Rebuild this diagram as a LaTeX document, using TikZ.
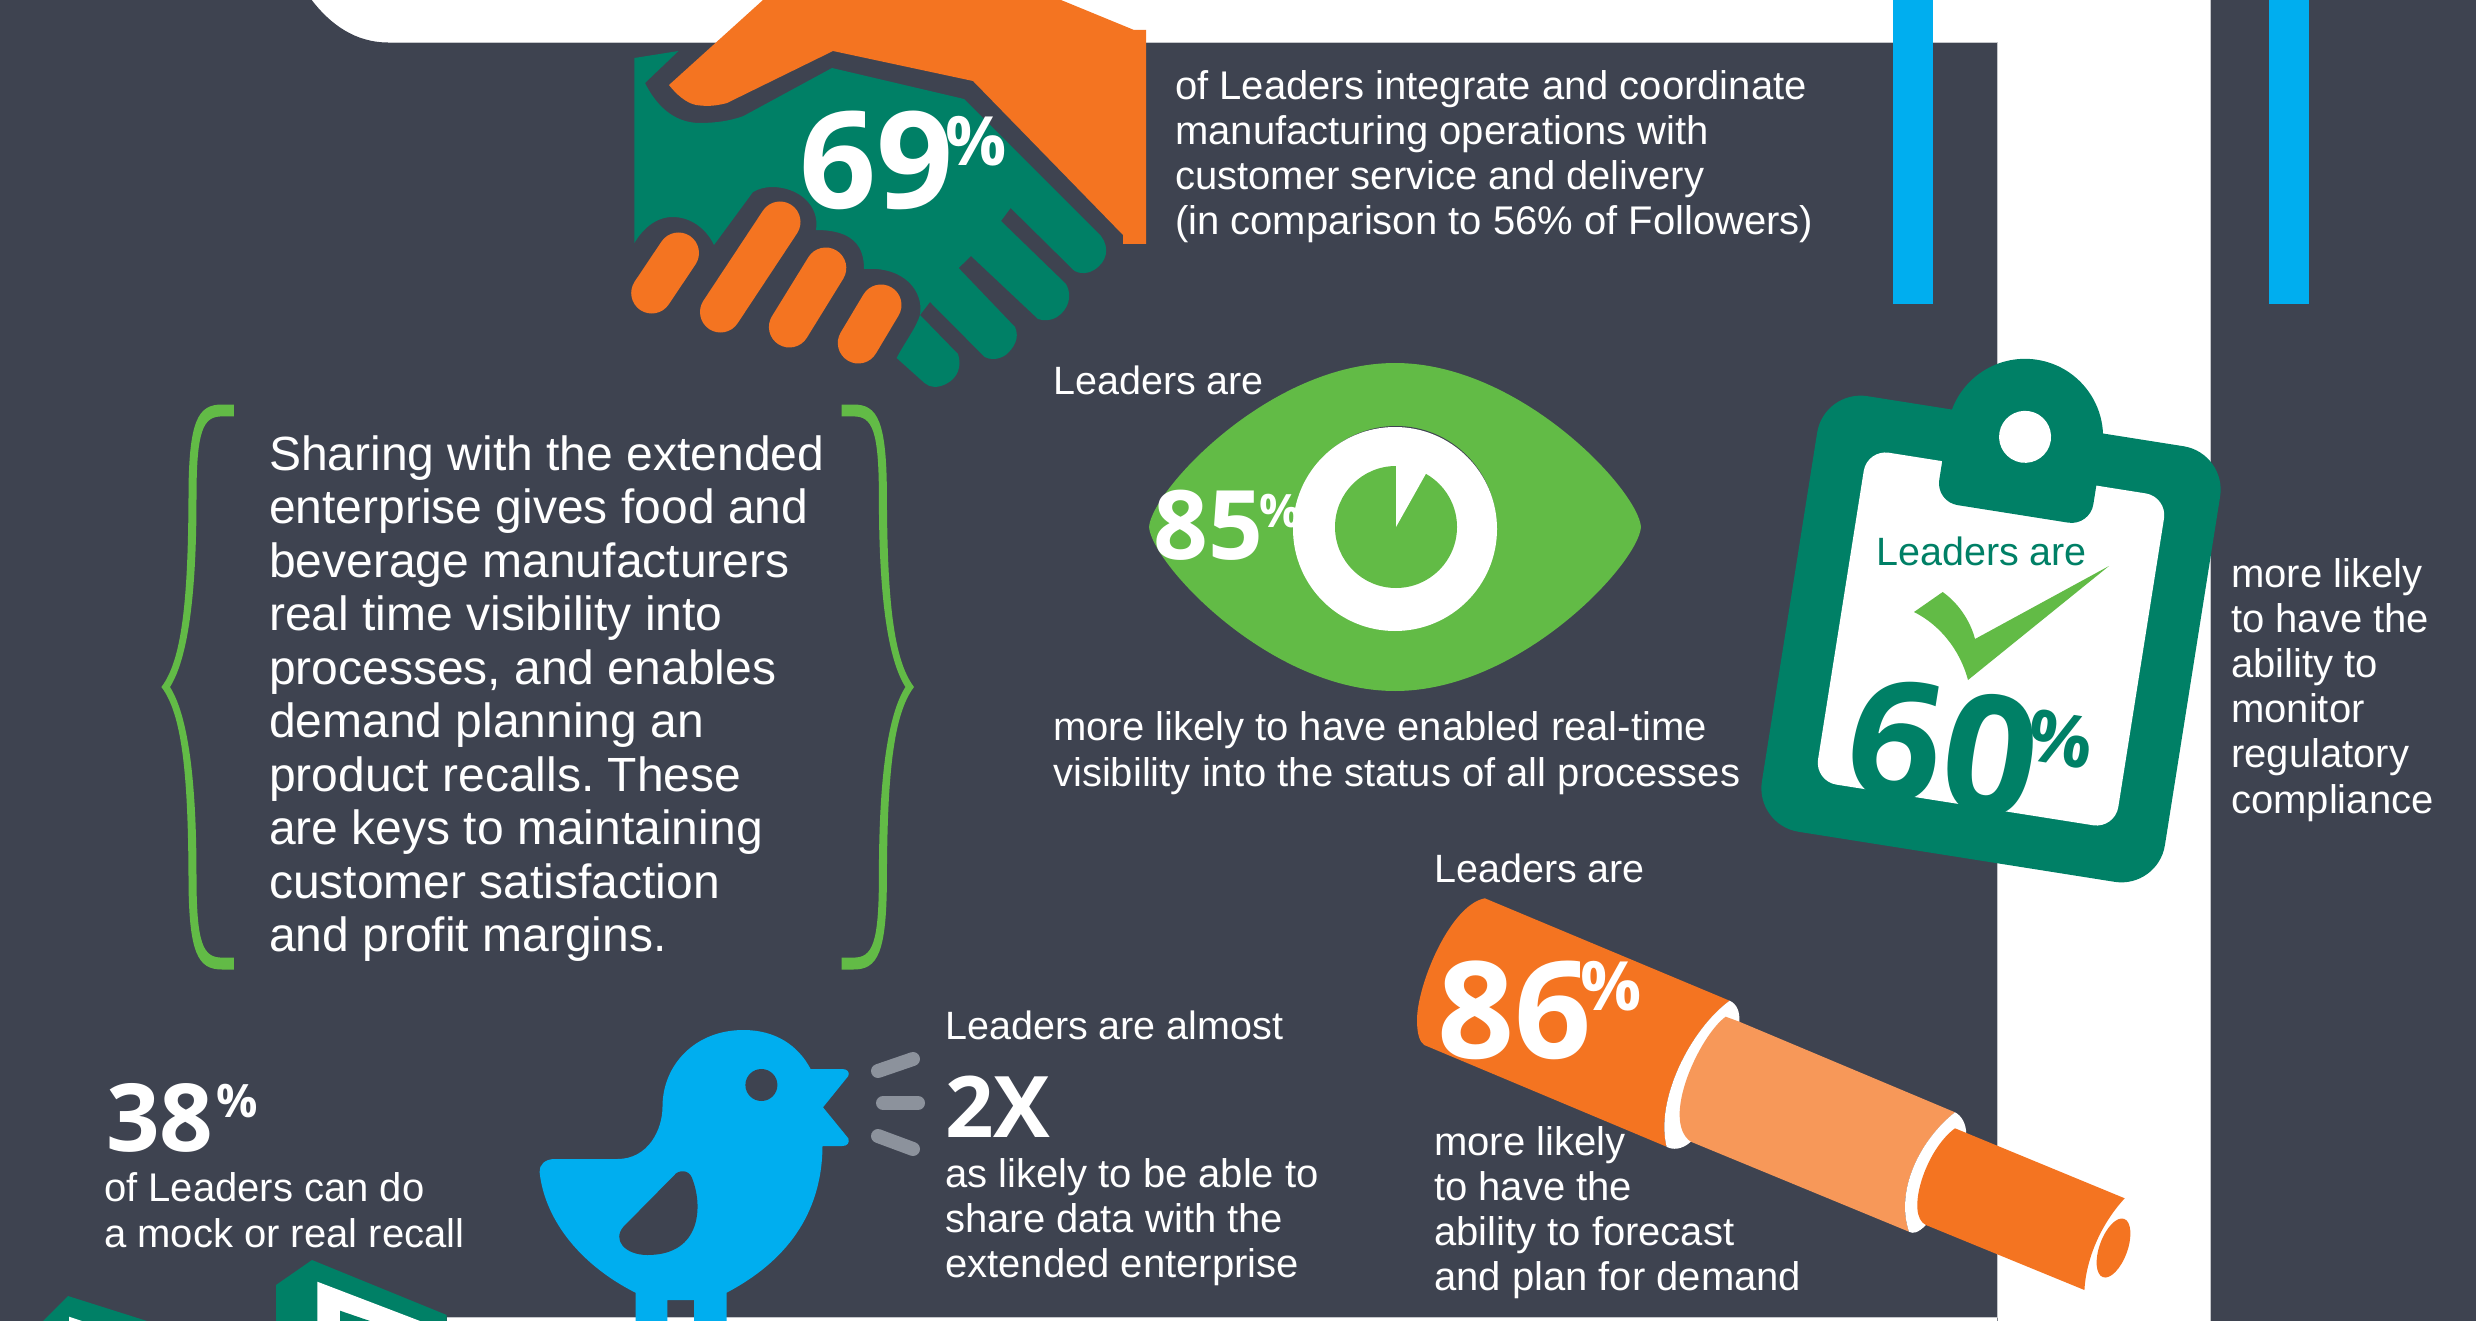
\documentclass[tikz,border=0pt]{standalone}
\usepackage{fontspec}
\setmainfont{Liberation Sans}
\newfontfamily\numfont{Open Sans}
\frenchspacing
\definecolor{panel}{HTML}{3E4350}
\definecolor{orangeA}{HTML}{F47421}
\definecolor{orangeB}{HTML}{F79859}
\definecolor{greenD}{HTML}{008066}
\definecolor{greenL}{HTML}{62BB46}
\definecolor{blueA}{HTML}{00AEEF}
\definecolor{greyA}{HTML}{8C929C}
\definecolor{edgeA}{HTML}{C4C6CA}
\newcommand\numf[1]{\fontsize{#1}{#1}\selectfont\numfont\bfseries}
\newcommand\mltext[6]{\foreach \t [count=\i from 0] in {#5} \node[#1] (#2-\i) at (#3,{#4+\i*#6}) {\t};}
\newcommand\bracehalf{\fill[greenL] (233.9,404.5) -- (222,404.5) .. controls (198,404.5) and (188.5,420) .. (188.5,498) .. controls (188,600) and (182,660) .. (161.4,687) -- (170,687) .. controls (187,660) and (196.5,600) .. (196.5,498) .. controls (196.5,430) and (203,416.4) .. (222,416.4) -- (233.9,416.4) -- cycle;}
\tikzset{
  txt/.style={anchor=base west,inner sep=0pt,text=white,font=\fontsize{40}{45}\selectfont},
  sharetxt/.style={txt,font=\fontsize{48}{54}\selectfont},
  pct/.style={anchor=base west,inner sep=0pt,text=white},
  finger/.style={draw=orangeA,line cap=round,line width=41pt},
  soundbar/.style={draw=greyA,line cap=round,line width=14pt}
}
\begin{document}
\begin{tikzpicture}[x=1pt,y=-1pt]
\useasboundingbox (0,0) rectangle (2476,1321);
% page
\fill[white] (0,0) rectangle (2476,1321);
\fill[panel] (0,0) -- (311.7,0) .. controls (330,24) and (355,42.5) .. (388,42.5) -- (1997.5,42.5) -- (1997.5,1321) -- (0,1321) -- cycle;
\draw[edgeA,line width=1pt] (388,42.5) -- (1997.5,42.5) -- (1997.5,1317.3) -- (447,1317.3);
\fill[white] (447,1317.8) rectangle (1997,1321);
\fill[panel] (2210.5,0) rectangle (2476,1321);
\draw[edgeA,line width=1pt] (2210.5,0) -- (2210.5,1321);
\fill[blueA] (1893,0) rectangle (1933,304);
\fill[blueA] (2269,0) rectangle (2309,304);

% handshake
\fill[greenD] (634.4,58) -- (678.5,51) -- (645,83)
  .. controls (655,103) and (672,123) .. (700,123) .. controls (715,123) and (730,121) .. (743.5,116)
  -- (832,68) -- (964,99) -- (1101,236)
  .. controls (1110,248) and (1107,262) .. (1094,270) .. controls (1088,274) and (1080,274) .. (1074.5,271)
  -- (1010.6,208) -- (1001,221) -- (1066,284)
  .. controls (1073,296) and (1068,310) .. (1057,317) .. controls (1050,321) and (1044,321) .. (1038,319)
  -- (971,256) -- (958.6,268) -- (1015,327)
  .. controls (1020,338) and (1014,348) .. (1005.7,355) .. controls (998,360) and (990,360) .. (984.6,357)
  -- (930,302) -- (920,315) -- (958,354)
  .. controls (962,366) and (958,378) .. (946,384) .. controls (938,388) and (930,388) .. (924.5,383)
  -- (896.6,358)
  .. controls (905,342) and (916,328) .. (920,315)
  .. controls (924,292) and (905,266) .. (864,269)
  .. controls (864,248) and (855,230) .. (816,230)
  .. controls (820,205) and (798,187) .. (772,187) .. controls (765,187) and (758,189) .. (753,192)
  -- (714,245)
  .. controls (706,228) and (690,217) .. (672.7,217) .. controls (655,217) and (642,230) .. (634.4,243)
  -- cycle;
\fill[orangeA] (763,0) -- (1061,0) -- (1134,30) -- (1146,30) -- (1146,244) -- (1123,244) -- (1123,235) -- (973,81) -- (833,51) -- (727,103)
  .. controls (712,107) and (704,106) .. (696,105) .. controls (686,103) and (676,94) .. (669,85) -- cycle;
\draw[finger] (678.5,253) -- (651.7,293);
\draw[finger] (780,222) -- (720.5,312);
\draw[finger] (825.8,268) -- (789.4,327);
\draw[finger] (881,305) -- (858.3,343);
\node[pct,font=\numf{135}] (n69) at (799,209) {69};
\node[pct,font=\numf{68}] (p69) at (945,166) {\%};
\mltext{txt}{hand}{1175}{99.5}{of Leaders integrate and coordinate,manufacturing operations with,customer service and delivery,(in comparison to 56\% of Followers)}{45}

% braces
\bracehalf
\begin{scope}[shift={(1075.4,0)},xscale=-1]\bracehalf\end{scope}
\begin{scope}[shift={(0,1374)},yscale=-1]\bracehalf\end{scope}
\begin{scope}[shift={(1075.4,1374)},xscale=-1,yscale=-1]\bracehalf\end{scope}
\mltext{sharetxt}{share}{269}{470}{Sharing with the extended,enterprise gives food and,beverage manufacturers,real time visibility into,{processes, and enables},demand planning an,product recalls. These,are keys to maintaining,customer satisfaction,and profit margins.}{53.5}

% eye
\node[txt,font=\fontsize{39.5}{45}\selectfont] (eyetop) at (1053,395) {Leaders are};
\fill[greenL] (1149,527) .. controls (1152,490) and (1270,363) .. (1395,363) .. controls (1520,363) and (1638,490) .. (1641,527) .. controls (1638,564) and (1520,691) .. (1395,691) .. controls (1270,691) and (1152,564) .. (1149,527) -- cycle;
\fill[panel] (1396,526) circle[radius=100];
\fill[white] (1395,529) circle[radius=102];
\fill[greenL] (1396,527) circle[radius=61];
\fill[white] (1396,527) -- (1396,462) -- (1428,470) -- cycle;
\node[pct,font=\numf{96}] (n85) at (1153,559) {85};
\node[pct,font=\numf{46}] (p85) at (1259,527) {\%};
\mltext{txt}{eye}{1053}{740}{more likely to have enabled real-time,visibility into the status of all processes}{46}

% clipboard
\begin{scope}[shift={(1991,639)},rotate=-9]
\fill[greenD,rounded corners=44pt] (-204,-220.5) rectangle (204,220.5);
\fill[greenD] (2,-205) circle[radius=78];
\fill[white,rounded corners=22pt] (-152,-168) rectangle (152,168);
\fill[greenD,rounded corners=22pt] (-76,-215) rectangle (80,-127);
\fill[white] (2,-205) circle[radius=26];
\end{scope}
\node[pct,text=greenD,font=\fontsize{39.5}{45}\selectfont] (cliptxt) at (1876,565) {Leaders are};
\fill[greenL] (1914,612) -- (1942.7,592) .. controls (1958,603) and (1970,620) .. (1975,639) -- (2109,566) -- (1968,680) .. controls (1960,650) and (1940,625) .. (1914,612) -- cycle;
\node[anchor=base,inner sep=0pt,text=greenD,rotate=-9,font=\numf{166}] (n60) at (1934,806) {60};
\node[anchor=center,inner sep=0pt,text=greenD,rotate=-9,font=\numf{72}] (p60) at (2061,739) {\%};
\mltext{txt}{clip}{2231}{587}{more likely,to have the,ability to,monitor,regulatory,compliance}{45.2}

% pipe
\node[txt,font=\fontsize{39.5}{45}\selectfont] (pipetop) at (1434,882) {Leaders are};
\fill[orangeA] (1484.8,898.3) -- (1729.6,1000.7)
  .. controls (1690,1030) and (1655,1100) .. (1666.6,1146.7)
  -- (1424.2,1045)
  .. controls (1420,1042) and (1417,1035) .. (1417,1020)
  .. controls (1417,985) and (1450,905) .. (1484.8,898.3) -- cycle;
\fill[white] (1729.6,1000.7) .. controls (1737,1004) and (1740,1012) .. (1739.3,1021.7)
  -- (1690.8,1141.7) .. controls (1682,1150) and (1672,1150) .. (1666.6,1146.7)
  .. controls (1655,1100) and (1690,1030) .. (1729.6,1000.7) -- cycle;
\fill[orangeB] (1725.7,1016.7) -- (1739.3,1021.7) -- (1955,1112.3)
  .. controls (1920,1140) and (1895,1190) .. (1909,1231.7)
  -- (1690.8,1141.7)
  .. controls (1660,1120) and (1700,1035) .. (1725.7,1016.7) -- cycle;
\fill[white] (1955,1112.3) .. controls (1962,1116) and (1966,1124) .. (1966.2,1133.3)
  -- (1925.9,1225) .. controls (1918,1233) and (1913,1234) .. (1909,1231.7)
  .. controls (1895,1190) and (1920,1140) .. (1955,1112.3) -- cycle;
\fill[orangeA] (1955,1128.3) -- (2124.7,1198.3)
  .. controls (2100,1225) and (2086,1260) .. (2084.4,1290)
  -- (1925.9,1225)
  .. controls (1905,1215) and (1925,1150) .. (1955,1128.3) -- cycle;
\fill[orangeA,rotate around={-20:(2113.5,1248)}] (2113.5,1248) ellipse[x radius=14,y radius=31];
\node[pct,font=\numf{135}] (n86) at (1437,1058) {86};
\node[pct,font=\numf{68}] (p86) at (1580,1010) {\%};
\mltext{txt}{pipe}{1434}{1155}{more likely,to have the,ability to forecast,and plan for demand}{45.3}

% bird
\node[txt,font=\fontsize{39.5}{45}\selectfont] (birdtop) at (945,1039) {Leaders are almost};
\node[pct,font=\numf{85}] (twox) at (945,1137) {2X};
\mltext{txt}{bird}{945}{1187}{as likely to be able to,share data with the,extended enterprise}{45}
\fill[blueA] (810.6,1069) -- (842.3,1069) .. controls (847,1069) and (850,1072) .. (848.3,1076) -- (823,1107.3) -- (848.3,1138.3) .. controls (850,1143) and (847,1146) .. (842.3,1146) -- (822.5,1146)
  .. controls (822,1215) and (785,1262) .. (726.6,1292.7)
  -- (726.6,1321) -- (694.2,1321) -- (694.2,1300) -- (667.3,1300) -- (667.3,1321) -- (635.5,1321) -- (635.5,1292.7)
  .. controls (575,1262) and (544,1215) .. (539.6,1172)
  .. controls (539,1165) and (545,1159) .. (554.6,1159)
  -- (617.5,1159) .. controls (648,1159) and (662.5,1130) .. (662.5,1106.7)
  .. controls (662.5,1065) and (695,1030) .. (743.4,1030)
  .. controls (775,1030) and (798,1045) .. (810.6,1069) -- cycle;
\fill[panel] (761.4,1085) circle[radius=16];
\fill[panel] (674.5,1175) .. controls (678,1170) and (689,1169) .. (692,1178) .. controls (703,1205) and (702,1255) .. (647.5,1255) .. controls (625,1255) and (612,1240) .. (623.5,1226.7) -- cycle;
\draw[soundbar] (878,1071) -- (913,1059);
\draw[soundbar] (883,1103) -- (918,1103);
\draw[soundbar] (878,1136) -- (913,1149);

% 38%
\node[pct,font=\numf{94}] (n38) at (106,1151) {38};
\node[pct,font=\numf{46}] (p38) at (216,1117) {\%};
\mltext{txt}{recall}{104}{1201}{of Leaders can do,a mock or real recall}{46}
% green shapes at bottom edge
\fill[greenD] (68,1296) -- (43,1321) -- (147,1321) -- cycle;
\fill[white] (69,1316.7) -- (69,1321) -- (82,1321) -- cycle;
\fill[greenD] (312,1260) -- (276,1285) -- (276,1321) -- (446.7,1321) -- (446.7,1315) -- cycle;
\fill[white] (317.3,1281.7) -- (317.3,1321) -- (420,1321) -- cycle;
\fill[greenD] (340,1310.7) -- (340,1321) -- (370,1321) -- cycle;
\end{tikzpicture}
\end{document}
